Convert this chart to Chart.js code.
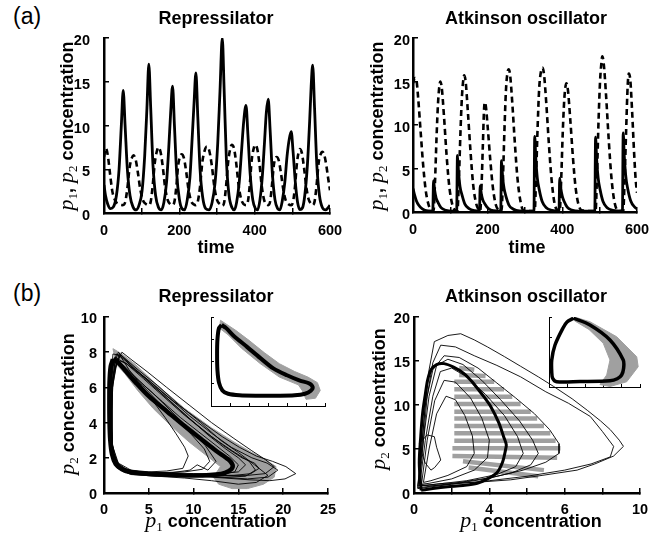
<!DOCTYPE html>
<html>
<head>
  <meta charset="utf-8">
  <title>Repressilator / Atkinson oscillator</title>
  <script src="https://cdn.jsdelivr.net/npm/chart.js"></script>
  <style>
    body { margin: 0; background: #fff; }
    #fig { position: relative; width: 667px; height: 538px; overflow: hidden; font-family: "Liberation Sans", Arial, sans-serif; color: #000; }
    canvas { position: absolute; }
    .txt { position: absolute; white-space: nowrap; font-weight: bold; font-size: 18px; line-height: 18px; transform: translateX(-50%); }
    .panel { position: absolute; font-size: 23px; line-height: 23px; }
    .ylab { position: absolute; white-space: nowrap; font-weight: bold; font-size: 18px; line-height: 20px; transform: translate(-50%, -50%) rotate(-90deg); }
    .m { font-family: "Liberation Serif", serif; font-style: italic; font-weight: normal; font-size: 22px; line-height: 0; }
    .s { font-family: "Liberation Serif", serif; font-weight: normal; font-size: 13px; vertical-align: -4px; line-height: 0; }
  </style>
</head>
<body>
<div id="fig">
  <canvas id="cA" width="290" height="223" style="left:60px;top:26px"></canvas>
  <canvas id="cB" width="287" height="222" style="left:370px;top:26px"></canvas>
  <canvas id="cC" width="288" height="218" style="left:60px;top:305px"></canvas>
  <canvas id="cD" width="288" height="218" style="left:372px;top:305px"></canvas>
  <canvas id="cE" width="125" height="99" style="left:205px;top:313px"></canvas>
  <canvas id="cF" width="102" height="80" style="left:543px;top:313px"></canvas>

  <div class="panel" style="left:13px;top:5px">(a)</div>
  <div class="panel" style="left:13px;top:282px">(b)</div>
  <div class="txt" style="left:216px;top:9px">Repressilator</div>
  <div class="txt" style="left:526px;top:9px">Atkinson oscillator</div>
  <div class="txt" style="left:216px;top:287px">Repressilator</div>
  <div class="txt" style="left:526px;top:287px">Atkinson oscillator</div>
  <div class="txt" style="left:216px;top:238px">time</div>
  <div class="txt" style="left:527px;top:238px">time</div>
  <div class="txt" style="left:216px;top:512px"><span class="m">p</span><span class="s">1</span> concentration</div>
  <div class="txt" style="left:531px;top:512px"><span class="m">p</span><span class="s">1</span> concentration</div>
  <div class="ylab" style="left:67px;top:126px"><span class="m">p</span><span class="s">1</span>, <span class="m">p</span><span class="s">2</span> concentration</div>
  <div class="ylab" style="left:377px;top:126px"><span class="m">p</span><span class="s">1</span>, <span class="m">p</span><span class="s">2</span> concentration</div>
  <div class="ylab" style="left:68px;top:404px"><span class="m">p</span><span class="s">2</span> concentration</div>
  <div class="ylab" style="left:379px;top:399px"><span class="m">p</span><span class="s">2</span> concentration</div>
</div>

<script>
  // --- (a) series temporales: Repressilator ---
  var repT1 = [0,4,10,17,25,33,40,46,51,56,62,69,77,85,93,101,108,114,119,124,130,137,145,152,159,166,172,177,182,187,193,200,207,214,221,228,234,239,244,249,255,262,270,279,287,295,302,308,314,319,325,332,340,346,352,359,365,371,377,382,388,395,402,408,414,420,426,431,436,441,447,454,461,467,473,480,486,492,497,502,508,514,520,527,533,540,546,550,554,559,565,572,580,588,595,600];
  var repP1 = [3.2,2.0,1.0,0.5,0.7,2.0,5.0,10.0,14.0,10.0,5.0,2.0,0.7,0.35,0.9,2.5,6.5,12.0,17.0,12.0,5.5,2.0,0.6,0.35,1.2,3.5,7.5,11.5,14.5,10.0,4.5,1.6,0.5,0.35,1.5,4.0,8.5,12.5,16.0,11.0,5.0,1.8,0.5,0.35,1.2,3.5,8.0,14.0,20.0,14.0,6.0,2.0,0.6,0.35,1.2,3.5,7.0,10.5,12.3,9.0,4.5,1.5,0.5,0.35,1.5,4.0,8.0,11.5,13.0,9.5,4.5,1.5,0.5,0.35,1.3,3.5,6.5,8.5,9.3,7.0,3.5,1.2,0.4,0.6,2.0,5.5,10.5,14.5,16.9,12.0,5.5,2.0,0.6,0.35,0.6,0.9];
  var repT2 = [0,5,10,16,22,30,40,50,56,62,68,74,78,84,90,96,103,112,119,124,129,135,140,144,150,156,162,169,176,182,187,192,197,202,206,212,218,224,231,238,244,249,255,261,267,273,279,286,293,300,308,314,319,324,330,335,339,345,351,357,364,371,377,382,387,392,397,401,407,413,419,425,431,436,441,446,451,455,458,464,470,476,482,490,497,502,507,512,516,520,525,531,537,543,549,554,559,564,570,575,580,585,590,595,600];
  var repP2 = [6.4,7.4,6.6,4.5,2.5,1.4,1.0,0.9,1.2,2.8,5.2,6.3,6.6,6.1,4.6,2.8,1.5,1.0,0.9,1.3,3.0,5.8,7.0,7.5,7.0,5.3,3.0,1.5,1.0,0.9,1.3,3.0,5.5,6.4,6.7,6.3,4.8,2.8,1.4,1.0,0.9,1.3,3.0,5.8,7.1,7.6,7.2,5.5,3.0,1.5,1.0,0.8,1.2,3.0,6.0,7.3,7.8,7.4,5.7,3.3,1.6,1.0,0.9,1.3,3.2,6.0,7.3,7.8,7.3,5.5,3.0,1.5,1.0,0.9,1.3,3.2,5.5,6.2,6.4,6.0,4.5,2.7,1.5,1.0,0.9,1.3,3.0,5.6,6.8,7.3,6.9,5.2,3.0,1.6,1.1,0.9,1.3,3.0,5.8,6.7,7.0,6.6,5.5,4.0,2.6];

  // --- (a) series temporales: Atkinson ---
  var atkT1 = [0,4,9,15,25,40,53,55,58,62,67,75,88,105,117,119,122,126,131,139,150,165,178,180,183,187,193,202,215,235,237,240,244,249,257,268,285,324,326,329,333,338,346,357,372,391,393,396,400,405,413,425,445,487,489,492,496,501,509,520,535,561,563,566,570,575,583,594,600];
  var atkP1 = [2.7,2.0,1.3,0.8,0.35,0.12,0.1,3.6,2.5,1.6,1.1,0.5,0.2,0.1,0.1,6.5,4.6,2.9,2.0,0.9,0.4,0.15,0.1,3.0,2.1,1.4,0.9,0.4,0.15,0.1,5.9,4.1,2.7,1.8,0.8,0.35,0.12,0.1,8.7,6.1,3.9,2.6,1.2,0.5,0.2,0.1,3.9,2.7,1.8,1.2,0.55,0.23,0.1,0.1,8.6,6.0,3.9,2.6,1.2,0.5,0.2,0.1,9.1,6.4,4.1,2.7,1.3,0.55,0.35];
  var atkT2 = [0,5,9,14,20,27,34,42,50,55,59,63,67,71,73,77,83,90,97,105,113,119,123,127,131,135,137,141,147,154,161,169,177,180,184,187,190,192,195,200,207,214,222,230,237,241,245,249,253,256,260,266,273,280,288,296,326,330,334,338,343,347,351,357,364,371,379,387,393,397,401,405,408,411,415,421,428,435,443,452,489,493,497,501,505,507,511,517,524,531,539,548,563,567,571,575,578,582,587,592,596,600];
  var atkP2 = [14.8,15.4,15.2,13.0,9.5,5.5,2.5,0.8,0.2,0.1,3.5,8.5,12.5,14.6,15.0,14.3,11.0,6.5,3.0,0.9,0.2,0.1,3.8,9.0,13.2,15.3,15.7,15.0,11.5,7.0,3.2,1.0,0.2,0.1,3.5,7.5,11.5,12.6,12.2,9.8,6.0,2.8,0.8,0.2,0.1,4.0,9.5,14.0,16.0,16.4,15.8,12.5,7.8,3.8,1.2,0.2,0.1,4.5,10.0,14.2,16.2,16.6,15.8,12.5,7.8,3.8,1.0,0.2,0.1,3.8,9.0,12.8,14.3,14.8,14.0,10.8,6.5,3.0,0.9,0.2,0.1,4.5,10.5,15.0,17.3,17.9,17.0,13.5,8.5,4.2,1.3,0.2,0.1,4.0,9.5,14.5,15.9,15.2,11.5,7.0,4.0,2.2];

  // --- (b) plano de fases: Repressilator ---
  var repCycleX = [1.0,0.75,0.62,0.6,0.62,0.7,0.9,1.3,2.0,3.0,5.0,7.0,9.0,11.0,12.5,13.5,14.2,14.35,13.9,12.5,11.0,9.0,7.0,5.0,3.5,2.3,1.5,1.0];
  var repCycleY = [7.6,7.2,6.3,5.2,4.0,3.0,2.2,1.65,1.35,1.18,1.08,1.03,1.0,1.0,1.05,1.15,1.35,1.6,1.9,2.4,3.0,3.8,4.65,5.5,6.3,7.0,7.45,7.6];
  var repBandX = [1.0,2.0,3.5,6.0,9.0,12.0,14.5,16.5,18.0,19.2,19.0,17.8,16.0,14.3,12.8,12.2,13.0,11.5,9.5,7.5,5.5,3.8,2.3,1.4,1.0];
  var repBandY = [8.2,7.9,7.3,6.1,4.8,3.7,2.9,2.3,1.9,1.5,0.9,0.5,0.25,0.25,0.5,0.9,1.5,2.1,2.9,3.8,4.8,5.8,6.8,7.3,8.2];
  var repTracesX = [
    [1.4,2.2,3.5,5.2,7.0,9.1,11.0,13.2,15.1,17.0,18.8,20.3,21.4,20.2,18.5,16.2,13.5,10.5,7.5,4.5,2.2,1.2,0.8,0.7,0.8,1.0,1.4],
    [1.6,3.0,5.0,7.3,9.5,12.0,14.2,16.5,18.2,19.4,18.3,16.0,13.0,10.0,6.5,3.5,1.8,1.0,0.8,0.9,1.2,1.6],
    [1.3,2.6,4.4,6.6,8.8,11.0,13.3,15.4,16.8,17.3,16.4,14.5,11.5,8.5,5.5,2.8,1.5,0.9,0.8,0.9,1.3],
    [1.8,2.8,4.0,5.5,6.8,8.0,9.0,9.4,8.8,7.0,5.0,3.0,1.6,1.0,0.9,1.0,1.4,1.8],
    [1.1,2.4,4.6,7.0,9.4,11.6,13.6,15.0,15.8,15.0,13.0,10.0,7.0,4.0,2.0,1.1,0.7,0.7,0.9,1.1],
    [1.5,3.2,5.4,7.6,9.6,11.3,12.5,11.6,10.4,9.6,7.5,5.0,2.5,1.3,0.8,0.8,1.1,1.5],
    [1.0,2.0,3.8,6.0,8.4,10.8,13.0,15.0,16.8,18.3,17.0,15.0,12.0,9.0,6.0,3.0,1.5,0.8,0.6,0.7,1.0],
    [1.2,2.5,4.5,6.5,8.5,10.5,12.5,14.0,15.0,14.6,13.0,10.0,7.0,4.0,2.0,1.1,0.75,0.7,0.85,1.2],
    [1.7,3.0,5.0,7.2,9.6,12.0,14.3,16.2,16.9,15.8,13.5,10.5,7.5,4.5,2.2,1.2,0.8,0.75,0.95,1.7],
    [1.3,2.6,4.3,6.2,8.0,9.8,11.2,11.8,11.0,9.0,6.0,3.5,1.7,1.0,0.8,0.9,1.3],
    [2.0,3.0,4.8,7.0,9.5,12.0,14.5,16.5,18.0,19.0,18.0,16.0,13.0,9.5,6.0,3.0,1.5,0.9,0.8,1.0,1.4,2.0]
  ];
  var repTracesY = [
    [7.9,7.6,7.0,6.3,5.5,4.7,4.0,3.2,2.6,2.1,1.8,1.5,1.1,0.8,0.7,0.75,0.85,0.95,1.0,1.1,1.3,1.8,3.0,4.5,6.0,7.2,7.9],
    [8.0,7.2,6.4,5.4,4.4,3.4,2.6,2.0,1.7,1.3,0.9,0.8,0.9,1.0,1.05,1.15,1.5,2.3,4.0,6.0,7.4,8.0],
    [7.7,7.3,6.5,5.5,4.5,3.6,2.7,2.0,1.7,1.4,1.1,1.0,1.0,1.05,1.1,1.25,1.7,2.8,4.6,6.3,7.7],
    [7.8,7.0,6.2,5.2,4.3,3.4,2.6,2.1,1.4,1.25,1.2,1.3,1.7,2.6,4.2,6.0,7.3,7.8],
    [7.6,7.4,6.5,5.4,4.3,3.3,2.5,2.0,1.6,1.2,1.1,1.1,1.15,1.2,1.4,2.0,3.5,5.5,7.0,7.6],
    [7.5,6.7,5.7,4.6,3.6,2.7,1.8,1.3,1.6,1.3,1.15,1.15,1.3,1.8,3.2,5.2,6.8,7.5],
    [7.9,7.8,7.0,6.1,5.0,4.0,3.0,2.3,1.6,1.0,0.6,0.5,0.7,0.85,0.95,1.05,1.4,2.4,4.0,6.0,7.9],
    [7.7,7.1,6.1,5.2,4.3,3.5,2.7,2.1,1.6,1.2,1.05,1.0,1.05,1.1,1.3,1.9,3.2,5.0,6.6,7.7],
    [7.9,7.3,6.3,5.3,4.2,3.2,2.4,1.8,1.3,0.95,0.9,0.95,1.0,1.05,1.2,1.6,2.7,4.6,6.5,7.9],
    [7.5,6.9,6.1,5.1,4.2,3.3,2.5,1.8,1.35,1.2,1.15,1.2,1.5,2.3,4.0,6.0,7.5],
    [8.0,7.6,6.9,6.0,5.0,4.0,3.1,2.4,1.9,1.5,1.1,1.0,1.0,1.0,1.05,1.15,1.5,2.5,4.3,6.2,7.4,8.0]
  ];
  var repInsetCycleX = [0.56,0.42,0.34,0.32,0.34,0.42,0.6,0.9,1.5,2.5,3.5,4.4,4.95,5.25,5.35,5.15,4.68,4.0,3.28,2.6,1.88,1.2,0.8,0.56];
  var repInsetCycleY = [3.64,3.5,3.0,2.3,1.6,1.05,0.7,0.55,0.48,0.46,0.46,0.48,0.55,0.68,0.85,1.02,1.14,1.38,1.69,2.15,2.67,3.15,3.5,3.64];
  var repInsetBandX = [0.5,1.3,2.0,2.8,3.6,4.4,5.1,5.6,5.75,5.5,5.0,4.8,4.6,3.6,2.6,1.6,0.9,0.45,0.5];
  var repInsetBandY = [3.85,3.4,2.95,2.4,1.9,1.55,1.3,1.05,0.7,0.35,0.3,0.7,0.95,1.3,1.9,2.6,3.2,3.5,3.85];

  // --- (b) plano de fases: Atkinson (eje x en divisiones de marca) ---
  var atkXLabels = ['0','','4','','6','','10'];
  var atkCycleX = [0.19,0.14,0.18,0.23,0.3,0.36,0.45,0.6,0.8,1.05,1.32,1.55,1.7,1.88,2.04,2.25,2.38,2.45,2.43,2.35,2.2,1.95,1.68,1.3,0.89,0.5,0.19];
  var atkCycleY = [0.3,3.4,6.5,9.1,11.2,12.8,14.0,14.6,14.7,14.3,13.6,12.6,11.8,10.8,9.8,8.0,6.4,5.5,4.9,3.5,2.3,1.6,1.1,0.85,0.7,0.5,0.3];
  var atkTracesX = [
    [0.1,0.2,0.3,0.4,0.54,0.9,1.24,1.6,1.95,2.4,2.83,3.3,3.71,4.2,4.6,4.95,5.21,5.45,5.56,5.3,4.8,4.33,3.4,2.57,1.6,0.8,0.1],
    [0.15,0.25,0.35,0.5,0.71,1.1,1.6,2.2,2.83,3.5,4.1,4.68,5.0,5.3,5.21,4.7,4.0,3.0,2.0,1.0,0.4,0.15],
    [0.1,0.2,0.3,0.5,0.8,1.2,1.7,2.2,2.7,3.2,3.6,3.85,3.85,3.5,2.9,2.1,1.2,0.5,0.1],
    [0.1,0.25,0.4,0.6,0.9,1.3,1.8,2.3,2.8,3.15,3.3,3.1,2.6,1.9,1.0,0.1],
    [0.15,0.3,0.5,0.7,1.0,1.4,1.9,2.4,2.75,2.9,2.7,2.2,1.4,0.6,0.15],
    [0.2,0.35,0.55,0.8,1.1,1.5,1.8,2.0,1.95,1.6,1.0,0.4,0.2],
    [0.25,0.4,0.6,0.85,1.1,1.35,1.55,1.6,1.4,0.9,0.45,0.25],
    [0.14,0.35,0.54,0.6,0.71,0.55,0.45,0.3,0.2,0.14]
  ];
  var atkTracesY = [
    [0.8,5,10,14,17.2,17.9,18.1,17.4,16.6,15.5,14.4,13.2,12.1,10.7,9.4,8.2,7.2,6.0,5.3,4.2,3.3,2.6,2.0,1.5,1.2,1.1,0.8],
    [1.0,6,11,14.8,16.8,16.6,15.6,14.5,13.2,11.5,10.2,8.7,7.0,5.3,4.1,3.3,2.6,1.9,1.4,1.0,0.8,1.0],
    [0.6,5,10,14.0,15.6,15.4,14.2,12.5,10.8,9.0,7.2,5.6,4.5,3.5,2.6,1.8,1.2,0.8,0.6],
    [0.5,6,11,14.5,15.2,14.6,12.8,10.6,8.2,6.0,4.5,3.2,2.3,1.6,1.0,0.5],
    [0.8,6,11,13.8,14.2,13.2,11.2,8.8,6.4,4.5,3.0,2.1,1.4,1.0,0.8],
    [1.0,6,10.5,12.8,12.6,10.8,8.5,6.0,4.0,2.6,1.6,1.1,1.0],
    [1.2,5,9,11.0,10.6,8.8,6.5,4.5,3.0,2.0,1.4,1.2],
    [5.6,6.6,6.4,5.2,3.75,2.9,2.6,3.4,4.6,5.6]
  ];
  var atkStripeXL = [1.2,1.2,1.07,1.07,1.07,1.07,1.07,1.07,1.07,1.07,1.07,1.02,1.02,1.3,1.45];
  var atkStripeXR = [1.6,1.9,2.13,2.39,2.61,2.83,3.1,3.27,3.45,3.62,3.76,3.89,3.8,3.45,3.3];
  var atkStripeYL = [14.2,13.4,12.65,11.78,10.95,10.1,9.24,8.48,7.6,6.78,5.95,5.08,4.2,3.6,2.9];
  var atkStripeYR = [14.0,13.3,12.65,11.78,10.95,10.1,9.24,8.48,7.6,6.78,5.95,5.08,4.0,2.6,1.9];
  var atkInsetCycleX = [1.34,2.25,3.35,4.08,4.1,3.99,3.75,3.35,1.7,0.42,0.2,0.15,0.15,0.33,0.77,0.99,1.34];
  var atkInsetCycleY = [2.75,2.48,1.88,1.08,0.75,0.48,0.33,0.25,0.22,0.21,0.35,0.6,1.08,1.68,2.36,2.6,2.75];
  var atkInsetBandX = [1.4,2.25,3.72,4.82,4.9,4.27,3.35,2.8,3.17,3.35,2.98,2.2,1.4];
  var atkInsetBandY = [2.8,2.61,2.01,1.21,0.81,0.21,0.02,0.1,0.48,1.08,1.75,2.3,2.65];

  var FONT = '"Liberation Sans", Arial, sans-serif';
  var GRAY = '#a0a0a0';

  function xy(xs, ys) {
    return xs.map(function (x, i) { return { x: x, y: ys[i] }; });
  }

  function line(xs, ys, w, extra) {
    return Object.assign({
      data: xy(xs, ys), showLine: true, borderColor: '#000', borderWidth: w,
      pointRadius: 0, fill: false, tension: 0
    }, extra || {});
  }

  function band(xs, ys, order) {
    return line(xs, ys, 1, { borderColor: GRAY, backgroundColor: GRAY, fill: 'shape', order: order });
  }

  // ejes estilo MATLAB: solo izquierda y abajo, marcas hacia dentro
  function axis(isY, min, max, step, fmt, pad, size, inset, offset) {
    return {
      type: 'linear', min: min, max: max,
      border: { color: '#000', width: inset ? 1 : 2.5 },
      grid: { drawOnChartArea: false, color: '#000', lineWidth: inset ? 1 : 1.5, tickLength: inset ? -3 : -5 },
      ticks: {
        display: !inset, stepSize: step, padding: pad, color: '#000', maxRotation: 0, autoSkip: false,
        labelOffset: offset || 0,
        font: { family: FONT, size: 14.5, weight: 'bold' }, callback: fmt
      },
      afterFit: function (s) {
        if (isY) { s.width = size; } else { s.height = size; }
        s.paddingLeft = 0; s.paddingRight = 0; s.paddingTop = 0; s.paddingBottom = 0;
      }
    };
  }

  function makeChart(id, datasets, xs, ys, pad) {
    return new Chart(document.getElementById(id), {
      type: 'scatter',
      data: { datasets: datasets },
      options: {
        responsive: false, animation: false, devicePixelRatio: 1,
        layout: { padding: pad },
        elements: { point: { radius: 0 } },
        plugins: { legend: { display: false }, tooltip: { enabled: false } },
        scales: { x: xs, y: ys }
      }
    });
  }

  var num = function (v) { return v; };
  var every200 = function (v) { return v % 200 === 0 ? v : ''; };

  // (a) Repressilator
  makeChart('cA', [
    line(repT1, repP1, 2.8, { cubicInterpolationMode: 'monotone' }),
    line(repT2, repP2, 2.6, { cubicInterpolationMode: 'monotone', borderDash: [6, 4] })
  ], axis(false, 0, 600, 100, every200, 14, 36), axis(true, 0, 20, 5, num, 19, 44, false, 3),
  { left: 0, top: 12, right: 20, bottom: 0 });

  // (a) Atkinson
  makeChart('cB', [
    line(atkT1, atkP1, 2.8, { cubicInterpolationMode: 'monotone' }),
    line(atkT2, atkP2, 2.6, { cubicInterpolationMode: 'monotone', borderDash: [6, 4] })
  ], axis(false, 0, 600, 100, every200, 14, 36), axis(true, 0, 20, 5, num, 8, 43, false, 3),
  { left: 0, top: 12, right: 20, bottom: 0 });

  // (b) Repressilator
  var dsC = [line(repCycleX, repCycleY, 4.5, { tension: 0.3, order: 0 })];
  repTracesX.forEach(function (xs, i) {
    dsC.push(line(xs, repTracesY[i], 0.9, { order: 1 }));
  });
  dsC.push(band(repBandX, repBandY, 2));
  makeChart('cC', dsC, axis(false, 0, 25, 5, num, 13, 30), axis(true, 0, 10, 2, num, 12, 44, false, 2),
    { left: 0, top: 12, right: 20, bottom: 0 });

  // (b) Atkinson
  var dsD = [line(atkCycleX, atkCycleY, 3, { tension: 0.3, order: 0 })];
  atkTracesX.forEach(function (xs, i) {
    dsD.push(line(xs, atkTracesY[i], 0.9, { order: 1 }));
  });
  atkStripeXL.forEach(function (x0, i) {
    dsD.push(line([x0, atkStripeXR[i]], [atkStripeYL[i], atkStripeYR[i]], 4.5, { borderColor: GRAY, order: 2 }));
  });
  makeChart('cD', dsD,
    axis(false, 0, 6, 1, function (v) { return atkXLabels[Math.round(v)]; }, 13, 30),
    axis(true, 0, 20, 5, num, 9, 42, false, 2),
    { left: 0, top: 12, right: 20, bottom: 0 });

  // recuadros
  makeChart('cE', [
    line(repInsetCycleX, repInsetCycleY, 4, { tension: 0.3, order: 0 }),
    band(repInsetBandX, repInsetBandY, 1)
  ], axis(false, 0, 6, 1, num, 0, 6, true), axis(true, 0, 4, 1, num, 0, 6, true),
  { left: 0, top: 4, right: 5, bottom: 0 });

  makeChart('cF', [
    line(atkInsetCycleX, atkInsetCycleY, 3.5, { tension: 0.3, order: 0 }),
    band(atkInsetBandX, atkInsetBandY, 1)
  ], axis(false, 0, 5, 1, num, 0, 6, true), axis(true, 0, 2.8, 1, num, 0, 6, true),
  { left: 0, top: 4, right: 5, bottom: 0 });
</script>
</body>
</html>
